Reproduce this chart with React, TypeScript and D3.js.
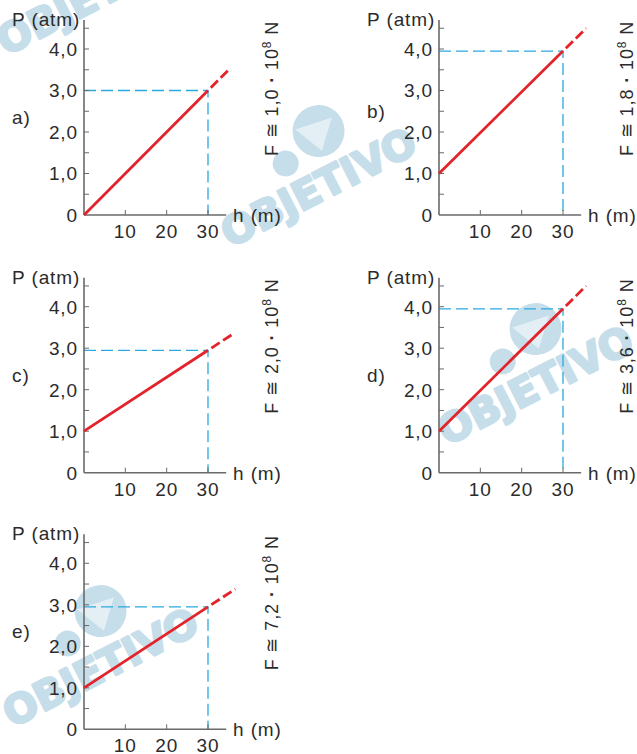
import React from 'react';
import * as d3 from 'd3';

// values
const panelLetters = ['a)', 'b)', 'c)', 'd)', 'e)'];
const pressureAtSurface = [0, 1.0, 1.0, 1.0, 1.0];
const pressureAt30 = [3.0, 3.95, 2.95, 3.95, 2.95];
const dashedEndH = [35.3, 35.6, 36.5, 35.6, 36.6];
const forceMantissa = ['1,0', '1,8', '2,0', '3,6', '7,2'];

const yTicks = [0, 1, 2, 3, 4];
const yTickLabels = ['0', '1,0', '2,0', '3,0', '4,0'];
const yMinorTicks = [0.5, 1.5, 2.5, 3.5, 4.5];
const xTicks = [10, 20, 30];
const xTickLabels = ['10', '20', '30'];
const markH = 30;

// panel origins on the page
const origins: [number, number][] = [
  [84, 215],
  [439, 215],
  [84, 472.7],
  [439, 472.7],
  [84, 729.3],
];
const letterOffsets = [-91, -97, -91, -91, -91];

const watermarks: [number, number][] = [
  [6, 56],
  [230, 248],
  [447, 446],
  [12, 728],
];

const FONT = 'Liberation Sans, Arial, Helvetica, sans-serif';
const TEXT = '#2b2b2b';
const AXIS = '#6a6a6a';
const RED = '#e3232b';
const BLUE = '#2aa9df';
const WATER = '#c6deea';

const x = d3.scaleLinear().domain([0, 30]).range([0, 124]);
const y = d3.scaleLinear().domain([0, 4]).range([0, -166]);
const xAxisMax = 34.4;
const yAxisMax = 4.7;

const Watermark: React.FC<{ pos: [number, number] }> = ({ pos }) => (
  <g transform={`translate(${pos[0]},${pos[1]}) rotate(-27)`}>
    <circle cx={132} cy={-64} r={26} fill={WATER} />
    <circle cx={88} cy={-50} r={13} fill={WATER} />
    <path d="M112,-76 L150,-70 L126,-45 Z" fill="#e4eff5" />
    <text
      x={0}
      y={0}
      fontFamily="DejaVu Sans, sans-serif"
      fontWeight="bold"
      fontSize={40}
      fill={WATER}
      stroke={WATER}
      strokeWidth={2.5}
      strokeLinejoin="round"
    >
      OBJETIVO
    </text>
  </g>
);

const Panel: React.FC<{ i: number }> = ({ i }) => {
  const [ox, oy] = origins[i];
  const p0 = pressureAtSurface[i];
  const p30 = pressureAt30[i];
  const slope = (p30 - p0) / markH;
  const pEnd = p0 + slope * dashedEndH[i];
  const line = d3
    .line<[number, number]>()
    .x((d) => x(d[0]))
    .y((d) => y(d[1]));

  return (
    <g
      transform={`translate(${ox},${oy})`}
      fontFamily={FONT}
      fill={TEXT}
      letterSpacing={0.9}
    >
      {/* guide lines */}
      <path
        d={line([
          [0, p30],
          [markH, p30],
          [markH, 0],
        ]) || ''}
        fill="none"
        stroke={BLUE}
        strokeWidth={1.3}
        strokeDasharray="12,5"
      />
      {/* axes */}
      <line x1={0} y1={0} x2={x(xAxisMax)} y2={0} stroke={AXIS} strokeWidth={1.6} />
      <line x1={0} y1={0} x2={0} y2={y(yAxisMax)} stroke={AXIS} strokeWidth={1.6} />
      {yTicks.slice(1).concat(yMinorTicks).map((v) => (
        <line key={`yt${v}`} x1={0} x2={5} y1={y(v)} y2={y(v)} stroke={AXIS} strokeWidth={1} />
      ))}
      {xTicks.map((v) => (
        <line key={`xt${v}`} x1={x(v)} x2={x(v)} y1={0} y2={-5} stroke={AXIS} strokeWidth={1} />
      ))}
      {/* pressure line */}
      <path
        d={line([
          [0, p0],
          [markH, p30],
        ]) || ''}
        fill="none"
        stroke={RED}
        strokeWidth={2.8}
      />
      <path
        d={line([
          [markH, p30],
          [dashedEndH[i], pEnd],
        ]) || ''}
        fill="none"
        stroke={RED}
        strokeWidth={2.8}
        strokeDasharray="10,4"
        strokeDashoffset={10}
      />
      {/* labels */}
      {yTicks.map((v, k) => (
        <text key={`yl${v}`} x={-6} y={y(v)} dy="0.36em" textAnchor="end" fontSize={19}>
          {yTickLabels[k]}
        </text>
      ))}
      {xTicks.map((v, k) => (
        <text key={`xl${v}`} x={x(v)} y={23} textAnchor="middle" fontSize={19}>
          {xTickLabels[k]}
        </text>
      ))}
      <text x={-72} y={-189} fontSize={19}>P (atm)</text>
      <text x={149} y={7} fontSize={19}>h (m)</text>
      <text x={-72} y={letterOffsets[i]} fontSize={19}>{panelLetters[i]}</text>
      <text transform={`translate(194,-59) rotate(-90)`} fontSize={18}>
        {`F ≅ ${forceMantissa[i]} `}
        <tspan fontWeight="bold">·</tspan>
        {' 10'}
        <tspan fontSize={12} dy={-7}>8</tspan>
        <tspan dy={7}> N</tspan>
      </text>
    </g>
  );
};

export default function App() {
  return (
    <svg
      width={637}
      height={754}
      style={{ position: 'absolute', left: 0, top: 0, background: '#fff' }}
    >
      {watermarks.map((w, k) => (
        <Watermark key={k} pos={w} />
      ))}
      {panelLetters.map((_, i) => (
        <Panel key={i} i={i} />
      ))}
    </svg>
  );
}
